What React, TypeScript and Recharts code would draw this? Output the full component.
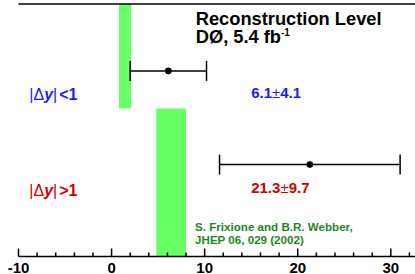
import {
  ComposedChart,
  Scatter,
  ErrorBar,
  XAxis,
  YAxis,
  ReferenceArea,
  ReferenceLine,
  ReferenceDot,
} from 'recharts';

// predicted ranges (MC@NLO) per rapidity bin
const bandLow = [0.8, 4.8];
const bandHigh = [2.1, 8.0];
const bandBottom = [0.586, 0];
const bandTop = [1, 0.586];

// measured asymmetries
const measured = [6.1, 21.3];
const measuredErr = [4.1, 9.7];
const rowPos = [0.735, 0.364];

const xTicks = [-10, -8, -6, -4, -2, 0, 2, 4, 6, 8, 10, 12, 14, 16, 18, 20, 22, 24, 26, 28, 30, 32];

const FONT = '"Liberation Sans", Arial, Helvetica, sans-serif';
const BLUE = '#1a1aff';
const RED = '#d00000';
const GREEN_TXT = '#1f861f';

const points = measured.map((v, i) => ({ x: v, y: rowPos[i], err: measuredErr[i] }));

const AxisTick = (props: any) => {
  const { x, y, payload } = props;
  const major = payload.value % 10 === 0;
  return (
    <g>
      <line x1={x} x2={x} y1={y} y2={y - (major ? 8 : 4)} stroke="#000" strokeWidth={1.5} />
      {major && (
        <text x={x} y={y + 16.5} textAnchor="middle" fontFamily={FONT} fontWeight="bold" fontSize={15} fill="#000">
          {payload.value}
        </text>
      )}
    </g>
  );
};

// text placed at a data position (left aligned, baseline)
const txt = (content: any) => (p: any) => (
  <text x={p.cx} y={p.cy} fontFamily={FONT} fontWeight="bold">
    {content}
  </text>
);

export default function App() {
  return (
    <div style={{ position: 'absolute', left: 0, top: 0, width: 415, height: 274, overflow: 'hidden', background: '#fff' }}>
      <ComposedChart width={415} height={274} data={points} margin={{ top: 4, right: 0, left: 18.5, bottom: 0 }}>
        <XAxis
          type="number"
          dataKey="x"
          domain={[-10, 32.6]}
          allowDataOverflow
          ticks={xTicks}
          interval={0}
          tickLine={false}
          tickSize={0}
          tickMargin={0}
          tick={<AxisTick />}
          axisLine={{ stroke: '#000', strokeWidth: 1.5 }}
          height={17.5}
        />
        <YAxis
          type="number"
          dataKey="y"
          domain={[0, 1]}
          allowDataOverflow
          width={0}
          tick={false}
          tickLine={false}
          axisLine={{ stroke: '#000', strokeWidth: 1.5 }}
        />
        {bandLow.map((lo, i) => (
          <ReferenceArea
            key={i}
            x1={lo}
            x2={bandHigh[i]}
            y1={bandBottom[i]}
            y2={bandTop[i]}
            fill="#66ff66"
            fillOpacity={1}
            stroke="none"
          />
        ))}
        <ReferenceLine y={1} stroke="#000" strokeWidth={1.5} />

        <Scatter
          dataKey="y"
          isAnimationActive={false}
          fill="#000"
          shape={(p: any) => <circle cx={p.cx} cy={p.cy} r={3.3} fill="#000" />}
        >
          <ErrorBar dataKey="err" direction="x" width={10} stroke="#000" strokeWidth={1.5} />
        </Scatter>

        <ReferenceDot x={9.04} y={0.917} r={0} shape={txt(<tspan fontSize={18.3} fill="#000">Reconstruction Level</tspan>)} />
        <ReferenceDot
          x={9.04}
          y={0.844}
          r={0}
          shape={txt(
            <>
              <tspan fontSize={18.3} fill="#000">DØ, 5.4 fb</tspan>
              <tspan fontSize={10} dy={-7} fill="#000">-1</tspan>
            </>
          )}
        />
        <ReferenceDot
          x={-8.84}
          y={0.618}
          r={0}
          shape={txt(
            <tspan fontSize={16} fill={BLUE}>
              <tspan fontWeight="normal">|Δ</tspan>
              <tspan fontStyle="italic">y</tspan>
              <tspan fontWeight="normal">|</tspan>
              <tspan dx={2}>{'<'}1</tspan>
            </tspan>
          )}
        />
        <ReferenceDot
          x={-8.84}
          y={0.24}
          r={0}
          shape={txt(
            <tspan fontSize={16} fill={RED}>
              <tspan fontWeight="normal">|Δ</tspan>
              <tspan fontStyle="italic">y</tspan>
              <tspan fontWeight="normal">|</tspan>
              <tspan dx={2}>{'>'}1</tspan>
            </tspan>
          )}
        />
        <ReferenceDot
          x={15}
          y={0.626}
          r={0}
          shape={txt(
            <tspan fontSize={15} fill={BLUE}>
              {measured[0]}
              <tspan fontWeight="normal">±</tspan>
              {measuredErr[0]}
            </tspan>
          )}
        />
        <ReferenceDot
          x={15}
          y={0.25}
          r={0}
          shape={txt(
            <tspan fontSize={15} fill={RED}>
              {measured[1]}
              <tspan fontWeight="normal">±</tspan>
              {measuredErr[1]}
            </tspan>
          )}
        />
        <ReferenceDot
          x={8.97}
          y={0.101}
          r={0}
          shape={txt(<tspan fontSize={11.6} fill={GREEN_TXT}>S. Frixione and B.R. Webber,</tspan>)}
        />
        <ReferenceDot
          x={8.97}
          y={0.05}
          r={0}
          shape={txt(<tspan fontSize={11.6} fill={GREEN_TXT}>JHEP 06, 029 (2002)</tspan>)}
        />
      </ComposedChart>
    </div>
  );
}
